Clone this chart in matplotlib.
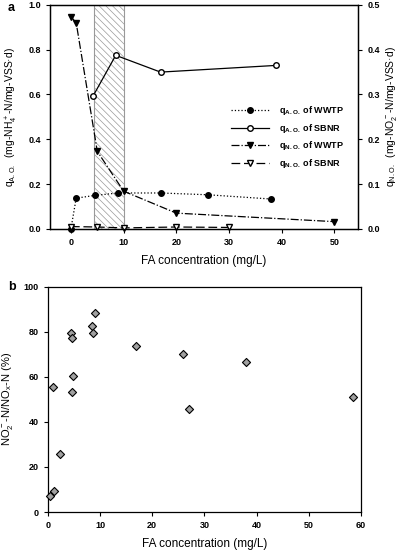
import matplotlib
matplotlib.use("Agg")
import matplotlib.pyplot as plt
import numpy as np

plt.rcParams['font.family'] = ['Liberation Sans', 'DejaVu Sans']
plt.rcParams['mathtext.default'] = 'regular'
plt.rcParams['font.weight'] = 'bold'
plt.rcParams['hatch.color'] = '#888888'
plt.rcParams['hatch.linewidth'] = 0.5

# panel a: ammonia oxidation rates (left axis)
ao_wwtp_x = [0, 1, 4.5, 8.9, 17, 26, 38]
ao_wwtp_y = [0.0, 0.137, 0.149, 0.16, 0.16, 0.152, 0.133]
ao_sbnr_x = [4.2, 8.5, 17, 39]
ao_sbnr_y = [0.593, 0.775, 0.70, 0.73]
# panel a: nitrite oxidation rates (right axis)
no_wwtp_x = [0, 1, 5, 10, 20, 50]
no_wwtp_y = [0.474, 0.46, 0.173, 0.084, 0.035, 0.016]
no_sbnr_x = [0, 5, 10, 20, 30]
no_sbnr_y = [0.005, 0.004, 0.002, 0.004, 0.003]
# shaded FA range
fa_band = [4.35, 10]

# panel b: nitrite accumulation ratio
fa_b = [0.45, 1.15, 0.96, 2.3, 4.35, 4.67, 4.8, 4.67, 8.45, 8.64, 9.0,
        16.95, 25.85, 27.1, 37.9, 58.4]
ratio_b = [6.9, 9.5, 55.4, 25.7, 79.3, 77.4, 60.3, 53.2, 82.3, 79.6, 88.3,
           73.7, 70.3, 45.6, 66.5, 51.1]

fig = plt.figure(figsize=(4.02, 5.5), dpi=100)
ax1 = fig.add_axes([0.124, 0.584, 0.767, 0.407])
ax2 = ax1.twinx()

ax1.axvspan(fa_band[0], fa_band[1], facecolor='white', edgecolor='#999999',
            hatch='\\\\\\\\\\', lw=0.8, zorder=0)

ms = 4
l1, = ax1.plot(ao_wwtp_x, ao_wwtp_y, ':', color='black', lw=0.9, marker='o',
               ms=ms, mfc='black', mec='black', clip_on=False,
               label='q$_{A.O.}$ of WWTP')
l2, = ax1.plot(ao_sbnr_x, ao_sbnr_y, '-', color='black', lw=0.9, marker='o',
               ms=ms, mfc='white', mec='black', clip_on=False,
               label='q$_{A.O.}$ of SBNR')
l3, = ax2.plot(no_wwtp_x, no_wwtp_y, '-.', color='black', lw=0.9, marker='v',
               ms=ms + 0.5, mfc='black', mec='black', clip_on=False,
               label='q$_{N.O.}$ of WWTP')
l4, = ax2.plot(no_sbnr_x, no_sbnr_y, color='black', lw=0.9, marker='v',
               dashes=(7, 3), ms=ms + 0.5, mfc='white', mec='black',
               clip_on=False, label='q$_{N.O.}$ of SBNR')

ax1.set_xlim(-4, 54.5)
ax1.set_ylim(0, 1.0)
ax2.set_ylim(0, 0.5)
ax1.set_xticks([0, 10, 20, 30, 40, 50])
ax1.set_yticks([0.0, 0.2, 0.4, 0.6, 0.8, 1.0])
ax2.set_yticks([0.0, 0.1, 0.2, 0.3, 0.4, 0.5])
ax1.yaxis.set_major_formatter(matplotlib.ticker.FormatStrFormatter('%.1f'))
ax2.yaxis.set_major_formatter(matplotlib.ticker.FormatStrFormatter('%.1f'))
for a in (ax1, ax2):
    a.tick_params(direction='out', length=3, width=0.8, labelsize=6.5)
ax1.set_xlabel('FA concentration (mg/L)', fontsize=8.5, labelpad=6)
ax1.set_ylabel('q$_{A.O.}$  (mg-NH$_4^+$-N/mg-VSS\u00b7d)', fontsize=7.5, labelpad=6)
ax2.set_ylabel('q$_{N.O.}$  (mg-NO$_2^-$-N/mg-VSS\u00b7d)', fontsize=7.5, labelpad=3)

ax2.legend(handles=[l1, l2, l3, l4], loc='center left',
           bbox_to_anchor=(0.56, 0.41), frameon=False, fontsize=6.5,
           handlelength=4.2, handletextpad=1.2, labelspacing=0.5)

fig.text(0.02, 0.985, 'a', fontsize=9, fontweight='bold', va='center')

# panel b
ax3 = fig.add_axes([0.119, 0.069, 0.779, 0.41])
ax3.scatter(fa_b, ratio_b, marker='D', s=17, facecolor='#a0a0a0',
            edgecolor='black', linewidths=0.8, zorder=3, clip_on=False)
ax3.set_xlim(0, 60)
ax3.set_ylim(0, 100)
ax3.set_xticks([0, 10, 20, 30, 40, 50, 60])
ax3.set_yticks([0, 20, 40, 60, 80, 100])
ax3.tick_params(direction='out', length=3, width=0.8, labelsize=6.5,
                top=False, right=False)
ax3.set_xlabel('FA concentration (mg/L)', fontsize=8.5, labelpad=6)
ax3.set_ylabel('NO$_2^-$-N/NO$_x$-N (%)', fontsize=8, labelpad=6)
fig.text(0.02, 0.478, 'b', fontsize=9, fontweight='bold', va='center')

for a in (ax1, ax2, ax3):
    for s in a.spines.values():
        s.set_linewidth(0.9)

fig.savefig('out.png', dpi=100)
